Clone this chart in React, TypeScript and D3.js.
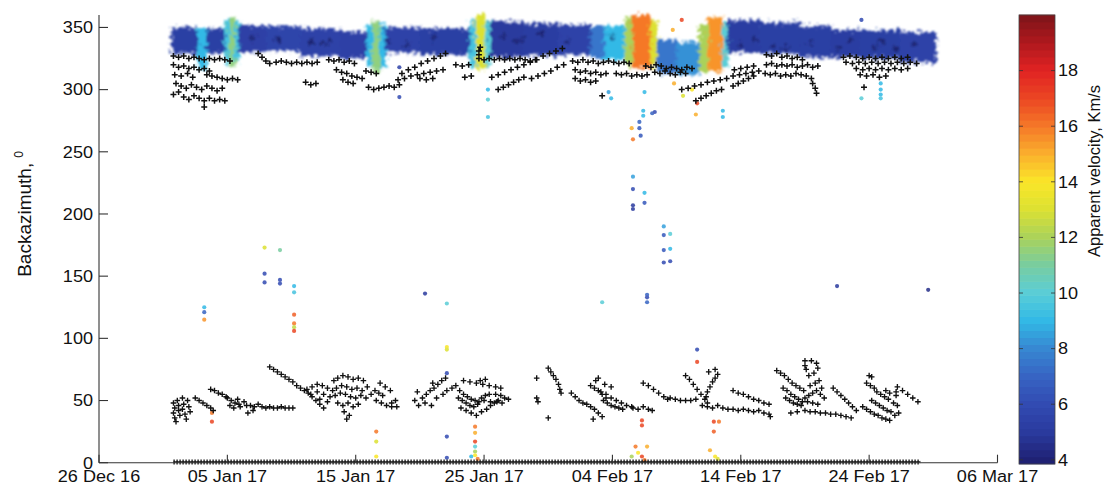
import React from "react";
import * as d3 from "d3";

const START = Date.UTC(2016, 11, 26);
const DAY = 864e5;
const xTickDays = [0, 10, 20, 30, 40, 50, 60, 70];
const yTicks = [0, 50, 100, 150, 200, 250, 300, 350];
const cbTicks = [4, 6, 8, 10, 12, 14, 16, 18];
const velStops = [3.85, 5, 6, 7, 8, 9, 10, 11, 12, 13, 14, 15, 16, 17, 18, 19, 20];
const velColors = [
  "rgb(30,30,110)", "rgb(42,58,158)", "rgb(50,75,178)", "rgb(55,100,195)", "rgb(55,135,210)",
  "rgb(50,185,230)", "rgb(90,205,215)", "rgb(120,205,160)", "rgb(170,210,90)", "rgb(220,225,50)",
  "rgb(250,230,40)", "rgb(250,175,45)", "rgb(245,120,40)", "rgb(235,70,35)", "rgb(225,35,35)",
  "rgb(175,25,30)", "rgb(125,20,25)",
];

// dense band of detections (day edges, top/bottom backazimuth, mean velocity)
const bandEdges = [5.7, 7.7, 8.4, 9.8, 10.2, 10.6, 10.9, 13.0, 15.7, 18.8, 20.9, 21.3, 21.9, 22.3, 25.0, 28.9, 29.4, 30.1, 30.5, 33.0, 35.9, 38.3, 39.4, 41.0, 41.6, 43.0, 43.5, 45.0, 46.8, 47.5, 48.6, 49.0, 51.5, 54.6, 57.0, 59.3, 62.4, 65.2];
const bandTop = [350, 350, 349, 356, 358, 355, 352, 351, 349, 347, 353, 355, 352, 350, 349, 356, 360, 356, 355, 353, 352, 351, 351, 358, 360, 356, 340, 338, 352, 358, 354, 356, 354, 351, 348, 348, 346];
const bandBottom = [329, 316, 329, 321, 318, 322, 330, 331, 327, 325, 318, 314, 318, 330, 328, 318, 316, 318, 326, 327, 328, 325, 324, 319, 317, 318, 313, 312, 314, 315, 318, 330, 329, 326, 326, 325, 322];
const bandVel = [5.3, 9, 5.3, 9.5, 11.5, 9.5, 5.4, 5.6, 5.5, 5.4, 9, 11.5, 9, 5.5, 5.3, 9.5, 13, 10, 5.0, 5.2, 5.5, 7.5, 9, 12, 16, 13, 7.5, 8.2, 12, 15.5, 10, 5.2, 5.3, 5.3, 5.2, 5.3, 5.5];

// black crosses, upper group [day, backazimuth]
const upperCrosses: [number, number][] = [
  [5.8,327],[6.2,326],[6.6,327],[7.0,325],[7.4,326],[7.8,325],[8.2,324],[8.6,325],[9.0,324],[9.4,325],[9.8,324],[10.2,323],
  [5.8,320],[6.2,318],[6.6,319],[7.0,317],[7.4,318],[7.8,316],[8.2,317],[8.6,315],
  [5.9,312],[6.4,311],[6.9,313],[7.3,310],[8.4,312],[8.8,311],[9.2,310],[9.6,309],[10.0,308],[10.4,309],[10.8,308],
  [6.0,305],[6.4,303],[6.8,301],[7.2,304],[7.6,302],[8.0,300],[8.4,303],[8.8,301],[9.2,299],[9.6,301],
  [5.8,296],[6.2,298],[6.6,294],[7.0,292],[7.4,295],[7.8,293],[8.2,291],[8.6,293],[9.0,291],[9.4,292],[9.8,291],[8.2,286],
  [12.4,329],[12.7,326],[13.0,323],[13.3,321],
  [13.8,322],[14.2,323],[14.6,322],[15.0,321],[15.4,322],[15.8,321],[16.2,322],[16.6,321],[17.0,322],
  [16.1,306],[16.5,304],[16.9,305],
  [17.9,324],[18.3,323],[18.7,324],[19.1,322],[19.5,323],[19.9,321],[18.5,316],[18.9,314],[19.3,313],[19.7,311],[20.1,310],[20.5,309],[19.0,308],[19.4,306],[19.8,305],
  [20.8,315],[21.2,314],[21.6,313],
  [21.0,302],[21.4,300],[21.8,301],[22.2,302],[22.6,303],[23.0,302],[23.4,304],
  [23.3,308],[23.8,309],[24.3,311],[24.8,312],[25.3,313],[25.8,314],[26.3,315],[26.8,316],
  [23.6,313],[24.1,316],[24.6,318],[25.1,321],[25.6,323],[26.1,325],[26.6,327],[27.0,329],
  [25.0,309],[25.5,308],[26.0,309],
  [27.8,320],[28.3,319],[28.8,320],[28.5,310],[29.0,311],
  [29.6,325],[30.0,324],[30.4,325],[30.8,324],[31.2,325],[31.6,324],[32.0,325],[32.4,324],[32.8,325],[33.2,324],[33.6,323],[34.0,324],
  [30.6,310],[31.1,312],[31.6,314],[32.1,316],[32.6,318],[33.1,320],[33.6,322],[34.1,324],[34.6,327],[35.1,329],[35.6,331],[36.1,333],
  [31.1,300],[31.5,302],[31.9,304],[32.3,306],[32.7,308],[33.1,310],
  [33.7,309],[34.2,311],[34.7,313],[35.2,315],[35.7,318],[36.2,320],
  [29.6,331],[29.7,334],[29.6,328],
  [36.9,323],[37.3,322],[37.7,324],[38.1,322],[38.5,323],[38.9,321],[39.3,322],[39.7,323],[40.1,322],[40.5,321],[40.9,322],[41.3,321],
  [37.1,316],[37.5,314],[37.9,315],[38.3,313],[38.7,314],[39.1,312],[39.5,313],
  [37.1,309],[37.5,307],[37.9,308],[38.3,306],[38.7,307],[39.2,295],
  [40.3,313],[40.7,312],[41.1,313],[41.5,311],[41.9,312],[42.3,311],[42.7,312],
  [42.6,319],[43.0,318],[43.4,320],[43.8,319],[44.2,317],[44.6,318],[45.0,317],[45.4,316],[45.8,318],[46.2,317],
  [43.3,314],[43.7,313],[44.1,315],[44.5,313],[44.9,312],[45.3,314],[45.7,313],
  [45.4,300],[45.9,301],[46.4,303],[46.9,304],[47.4,306],[47.9,307],[48.4,308],[48.9,309],[49.4,311],[49.9,312],[50.4,313],[50.9,314],[51.4,315],
  [46.5,291],[46.9,293],[47.3,295],[47.7,297],[48.1,299],[48.5,300],
  [49.4,303],[49.8,305],[50.2,307],[50.6,309],[51.0,311],[49.5,316],[50.0,317],[50.5,318],[51.0,319],
  [52.0,328],[52.4,327],[52.8,329],[53.2,326],[53.6,327],[54.0,325],[54.4,326],[54.8,324],
  [52.0,320],[52.4,321],[52.8,319],[53.2,320],[53.6,319],[54.0,320],[54.4,318],[54.8,319],[55.2,320],[55.6,318],[56.0,319],
  [51.9,313],[52.3,312],[52.7,313],[53.1,311],[53.5,312],[53.9,311],[54.3,313],[54.7,312],[55.1,311],
  [55.5,309],[55.6,305],[55.8,301],[55.9,297],
  [58.0,326],[58.5,327],[59.0,326],[59.5,325],[60.0,326],[60.5,325],[61.0,326],[61.5,325],[62.0,326],[62.5,325],[63.0,326],
  [58.2,322],[58.7,321],[59.2,322],[59.7,321],[60.2,322],[60.7,321],[61.2,322],[61.7,321],[62.2,322],[62.7,321],[63.2,322],[63.7,321],
  [59.0,317],[59.5,316],[60.0,317],[60.5,316],[61.0,317],[61.5,316],[62.0,317],[62.5,316],[63.0,317],
  [59.3,312],[59.8,311],[60.3,312],[60.8,310],[61.3,311],[59.6,302],
];

// darker detections embedded inside the band [day, backazimuth]
const inBandMarks: [number, number][] = [
  [14.0,340],[16.5,338],[17.5,337],[22.5,339],[26.0,342],[33.0,340],[40.0,342],[52.5,335],[53.5,333],[57.5,334],[60.5,333],[62.0,332],[36.5,338],[50.0,336],
  [31.5,343],[32.5,338],[34.5,345],[51.0,340],[55.5,337],[58.5,340],[61.0,338],[63.5,336],[12.0,341],[18.0,339],[24.0,336],
];

// black crosses, lower group [day, backazimuth]
const lowerCrosses: [number, number][] = [
  [5.8,48],[5.9,44],[5.8,40],[5.9,36],[6.1,50],[6.2,46],[6.2,42],[6.3,38],[6.5,52],[6.6,47],[6.5,43],[6.7,39],[6.9,50],[7.0,45],[7.1,41],[6.0,33],[6.8,35],
  [7.5,52],[7.8,50],[8.1,48],[8.4,46],[8.7,44],[8.9,42],
  [8.7,59],[9.0,58],[9.3,56],[9.6,55],[9.9,53],
  [10.0,52],[10.3,50],[10.6,48],[10.9,47],[10.2,46],[10.5,44],[11.0,45],[11.3,49],[10.8,51],[11.5,46],
  [11.8,46],[12.1,45],[12.4,47],[12.7,45],[13.0,44],[13.3,45],[13.6,44],[13.9,44],[14.2,45],[14.5,44],[14.8,44],[15.1,44],
  [11.6,40],[12.0,42],
  [13.3,77],[13.6,75],[13.9,73],[14.2,71],[14.5,69],[14.8,67],[15.1,65],[15.4,62],[15.7,60],[16.0,58],[16.3,56],[16.6,53],[16.9,50],[17.2,47],[17.5,44],
  [16.2,59],[16.6,61],[17.0,63],[17.4,62],[17.8,60],[18.2,58],[16.5,55],[17.0,57],[17.5,55],[18.0,53],[17.2,51],[17.8,49],
  [18.3,66],[18.6,68],[19.0,70],[19.4,69],[19.8,67],[20.2,68],[20.6,66],[18.5,60],[18.9,62],[19.3,61],[19.7,59],[20.1,60],[20.5,58],[20.9,61],
  [18.4,54],[18.8,56],[19.2,55],[19.6,53],[20.0,52],[20.4,54],[20.8,52],[21.2,55],[18.6,48],[19.0,46],[19.4,48],[19.8,45],[20.2,47],[19.1,41],[19.5,38],[19.3,35],
  [21.5,58],[21.8,56],[22.1,54],[21.6,50],[22.0,48],[22.4,46],[22.8,48],[23.1,50],[21.9,64],[22.3,61],[22.7,58],[22.8,45],[23.2,45],
  [24.6,50],[24.9,46],[25.2,52],[25.5,55],[25.8,58],[26.1,60],[26.4,63],[26.7,66],[27.0,68],[25.4,48],[25.9,46],[26.3,52],[26.8,55],[27.1,58],[26.0,64],[24.8,57],
  [27.5,60],[27.8,62],[28.1,58],[28.4,55],[28.7,53],[29.0,51],[29.3,50],[29.6,49],[28.0,52],[28.3,50],[28.6,48],[28.9,46],[29.2,45],[29.5,47],[29.8,52],[30.1,54],
  [28.2,44],[28.6,42],[29.0,40],[29.4,38],[29.8,41],[30.2,43],[30.5,46],[30.8,48],[31.1,50],[30.4,55],[30.9,55],[31.3,54],[31.6,52],[30.1,67],[29.7,66],
  [28.4,66],[28.9,65],[29.4,64],[29.9,63],[30.4,62],[30.9,61],[31.3,60],[30.0,50],[30.5,49],[31.0,49],[31.4,48],[31.9,51],
  [34.1,68],[34.1,52],[34.2,49],
  [35.0,76],[35.2,73],[35.4,70],[35.6,67],[35.8,63],[35.9,59],[36.0,56],[35.0,36],
  [36.8,56],[37.1,53],[37.4,50],[37.7,48],[38.0,47],[38.3,45],[38.6,43],[38.9,40],[39.2,37],[38.3,62],[38.6,60],[38.9,58],[39.2,55],[39.5,52],[38.7,66],[38.9,68],
  [39.3,50],[39.6,48],[39.9,46],[40.2,45],[40.5,44],[40.8,43],[38.5,35],
  [39.1,57],[39.5,55],[39.9,52],[40.3,50],[40.7,48],[41.1,46],[41.5,45],[39.4,63],[39.9,61],
  [41.6,44],[42.0,43],[42.4,45],[42.8,43],[43.1,42],
  [42.4,64],[42.8,62],[43.2,59],[43.6,56],[44.0,53],[44.3,51],
  [44.5,52],[44.9,51],[45.3,50],[45.7,50],[46.1,50],[46.5,51],
  [45.7,70],[46.0,67],[46.3,63],[46.6,59],[46.9,55],[47.2,51],[47.4,48],
  [48.2,71],[48.0,68],[47.8,65],[47.6,61],[47.4,57],[47.3,53],[47.5,73],[48.0,75],
  [47.0,46],[47.4,45],[47.8,44],[48.2,46],[48.6,44],[49.0,43],[49.4,43],[49.8,42],[50.2,43],[50.6,42],[51.0,41],[51.4,42],[51.8,40],[52.2,39],
  [49.4,58],[49.8,56],[50.2,55],[50.6,53],[51.0,51],[51.4,50],[51.8,48],[52.2,47],[52.3,37],
  [52.8,74],[53.1,72],[53.4,70],[53.7,67],[54.0,64],[54.3,62],[54.6,60],[54.9,58],
  [53.3,60],[53.6,58],[53.9,55],[54.2,53],[54.5,51],[54.8,49],[53.5,52],[53.8,50],[54.1,48],[54.4,47],[54.7,46],
  [55.0,52],[55.3,54],[55.6,56],[55.9,58],[56.2,55],[56.5,52],[55.2,49],[55.6,48],[56.0,47],[55.4,62],[55.8,64],[56.1,66],[55.3,70],[55.7,72],[55.1,75],[56.3,60],
  [53.9,40],[54.4,41],[55.0,82],[55.5,82],[55.0,78],[55.9,80],[56.0,76],
  [55.0,42],[55.4,41],[55.8,41],[56.2,40],[56.6,40],[57.0,39],[57.4,39],[57.8,38],[58.2,37],[58.6,36],
  [57.2,60],[57.5,57],[57.8,54],[58.1,51],[58.4,48],[58.7,45],[59.0,42],
  [59.8,64],[60.1,62],[60.4,60],[60.6,57],[60.9,55],[61.2,53],[61.5,51],[60.2,50],[60.5,48],[60.8,46],[61.1,44],[61.4,42],[61.7,41],
  [59.5,45],[59.8,43],[60.1,41],[60.4,39],[60.7,38],[61.0,36],[61.3,35],[61.6,34],[62.0,38],[62.3,40],[61.9,48],[62.2,46],[61.3,58],[61.6,56],[60.0,70],[60.2,69],
  [62.2,61],[62.6,58],[63.0,55],[63.4,52],[63.8,49],[62.1,57],[62.1,54],
];

// scattered coloured detections [day, backazimuth, velocity]
const colouredPoints: [number, number, number][] = [
  [8.2,125,9],[8.2,121,7],[8.2,115,15.5],[12.9,173,13],[12.9,152,6],[12.9,145,6],[14.1,171,11],[14.1,147,6],[14.1,144,6],
  [15.2,142,9],[15.2,137,9.5],[15.2,119,16.5],[15.2,112,16],[15.2,109,12.5],[15.2,106,17],[25.4,136,5],[27.1,128,10],[27.1,93,14],[27.1,91,13],
  [23.4,318,5.5],[23.4,294,6],[30.3,300,9],[30.3,292,10],[30.3,278,9.5],[27.1,72,6],[27.1,21,6],[27.1,4,6],
  [29.3,29,16],[29.3,24,15],[29.3,17,17],[29.3,13,10],[29.3,9,12],[29.3,6,14],[29.5,3,16],[29.0,5,9],[21.6,25,16],[21.6,17,13],[21.6,5,14],[8.8,40,16],[8.8,33,17],
  [42.4,283,9],[42.4,279,9],[43.1,281,7],[42.1,274,7],[42.1,269,6.5],[42.2,263,6.5],[41.5,269,15],[41.6,260,16],[46.6,289,17],[46.5,280,15],[48.6,283,9],[48.6,278,9],
  [41.6,230,8.5],[41.6,220,6],[41.6,207,5],[41.6,204,5],[42.5,217,9],[42.5,209,6.5],[44.0,190,8.5],[44.0,183,6.5],[44.5,184,10],[44.0,171,6.5],[44.5,172,9],[44.0,161,6],[44.5,162,6],
  [39.2,129,10],[42.7,135,7],[42.7,133,6],[42.7,129,7],[46.6,91,6],[57.5,142,5],[64.6,139,4.5],
  [42.3,34,17],[42.3,30,17],[41.8,13,16],[42.7,13,15],[42.0,8,14],[42.3,5,17],[42.5,2,16],[41.5,5,12],[46.6,81,17],[47.9,33,17],[48.3,33,16],[47.9,25,16.5],[47.6,10,15],[48.0,5,14],[48.2,3,13],
  [39.7,298,8.5],[39.9,293,9],[42.5,298,9],[43.3,282,6],[45.4,356,17],[44.7,348,15],[46.2,300,14],[45.5,295,13],[44.8,305,15],
  [60.9,305,9],[60.9,300,9],[60.9,296,9],[60.9,293,9.5],[59.4,293,10],[59.4,356,6],
];

// continuous row of zero-backazimuth detections
const zeroRowSpans: [number, number][] = [[5.8, 64.0]];
const zeroRowBaz = 0.6;

const FONT = "'Liberation Sans', Arial, Helvetica, sans-serif";
const SX = 1.13;

export default function App() {
  const x = d3.scaleUtc().domain([new Date(START), new Date(START + 70 * DAY)]).range([99, 997.5]);
  const xd = (d: number) => x(new Date(START + d * DAY));
  const y = d3.scaleLinear().domain([0, 360]).range([462.7, 15]);
  const color = d3.scaleLinear<string>().domain(velStops).range(velColors).interpolate(d3.interpolateRgb).clamp(true);
  const cbY = d3.scaleLinear().domain([3.85, 20]).range([464, 15]);
  const fmt = d3.utcFormat("%d %b %y");

  const crossPath = (pts: [number, number][], s: number) =>
    pts.map(([d, b]) => {
      const cx = xd(d), cy = y(b);
      return `M${cx - s},${cy}H${cx + s}M${cx},${cy - s}V${cy + s}`;
    }).join("");

  const cbSteps = d3.range(64).map((i) => 3.85 + (i * (20 - 3.85)) / 64);
  const cbStep = (20 - 3.85) / 64;
  const cbX0 = 1019, cbX1 = 1055;

  return (
    <svg width={1111} height={486} style={{ position: "absolute", left: 0, top: 0, background: "#fff" }}>
      <defs>
        <filter id="rough" filterUnits="userSpaceOnUse" x={0} y={0} width={1111} height={486}>
          <feTurbulence type="fractalNoise" baseFrequency="0.28" numOctaves={3} seed={4} result="n" />
          <feDisplacementMap in="SourceGraphic" in2="n" scale={12} xChannelSelector="R" yChannelSelector="G" result="d" />
          <feGaussianBlur in="d" stdDeviation={0.9} />
        </filter>
      </defs>

      {/* band */}
      <g filter="url(#rough)">
        {bandVel.map((v, i) => (
          <rect key={i} x={xd(bandEdges[i]) - 0.5} width={xd(bandEdges[i + 1]) - xd(bandEdges[i]) + 1}
            y={y(bandTop[i])} height={y(bandBottom[i]) - y(bandTop[i])} fill={color(v)} />
        ))}
        <path d={crossPath(inBandMarks, 3)} stroke="rgb(25,28,95)" strokeWidth={2.2} fill="none" opacity={0.8} />
      </g>

      {/* coloured scatter */}
      <g opacity={0.85}>
        {colouredPoints.map(([d, b, v], i) => (
          <circle key={i} cx={xd(d)} cy={y(b)} r={2.1} fill={color(v)} />
        ))}
      </g>

      {/* black crosses */}
      <path d={crossPath(upperCrosses, 3)} stroke="#111" strokeWidth={1.5} fill="none" />
      <path d={crossPath(lowerCrosses, 2.8)} stroke="#111" strokeWidth={1.35} fill="none" />
      {zeroRowSpans.map(([a, b], i) => (
        <g key={i}>
          <line x1={xd(a)} x2={xd(b)} y1={y(zeroRowBaz)} y2={y(zeroRowBaz)} stroke="#111" strokeWidth={1.3} />
          <line x1={xd(a)} x2={xd(b)} y1={y(zeroRowBaz)} y2={y(zeroRowBaz)} stroke="#111" strokeWidth={5} strokeDasharray="1.3 1.7" />
        </g>
      ))}

      {/* axes */}
      <g stroke="#333" strokeWidth={1.1} fill="none">
        <line x1={99} x2={99} y1={15} y2={y(0)} />
        <line x1={99} x2={997.5} y1={y(0)} y2={y(0)} />
        {yTicks.map((t) => <line key={t} x1={99} x2={108} y1={y(t)} y2={y(t)} />)}
        {xTickDays.map((t) => <line key={t} x1={xd(t)} x2={xd(t)} y1={y(0)} y2={y(0) - 8} />)}
      </g>
      <g fontFamily={FONT} fontSize={16} fill="#111">
        {yTicks.map((t) => (
          <text key={t} transform={`translate(93,${y(t) + 5.8}) scale(${SX},1)`} textAnchor="end">{t}</text>
        ))}
        {xTickDays.map((t) => (
          <text key={t} transform={`translate(${xd(t)},482) scale(${SX},1)`} textAnchor="middle">{fmt(new Date(START + t * DAY))}</text>
        ))}
      </g>
      <text transform="translate(31,214) rotate(-90)" textAnchor="middle" fontFamily={FONT} fontSize={19} fill="#111">
        Backazimuth,<tspan dx={5} dy={-8} fontSize={12}>0</tspan>
      </text>

      {/* colorbar */}
      <g>
        {cbSteps.map((v, i) => (
          <rect key={i} x={cbX0} width={cbX1 - cbX0} y={cbY(v + cbStep) - 0.3} height={cbY(v) - cbY(v + cbStep) + 0.6} fill={color(v + cbStep / 2)} />
        ))}
        <rect x={cbX0} y={15} width={cbX1 - cbX0} height={449} fill="none" stroke="#444" strokeWidth={0.8} />
        {cbTicks.map((t) => (
          <g key={t} stroke="#333" strokeWidth={0.8}>
            <line x1={cbX0} x2={cbX0 + 4} y1={cbY(t)} y2={cbY(t)} />
            <line x1={cbX1 - 4} x2={cbX1} y1={cbY(t)} y2={cbY(t)} />
          </g>
        ))}
        <g fontFamily={FONT} fontSize={16} fill="#111">
          {cbTicks.map((t) => (
            <text key={t} transform={`translate(1058,${cbY(t) + 5.8}) scale(${SX},1)`}>{t}</text>
          ))}
        </g>
        <text transform="translate(1100,171) rotate(-90)" textAnchor="middle" fontFamily={FONT} fontSize={16.5} fill="#111">
          Apparent velocity, Km/s
        </text>
      </g>
    </svg>
  );
}
